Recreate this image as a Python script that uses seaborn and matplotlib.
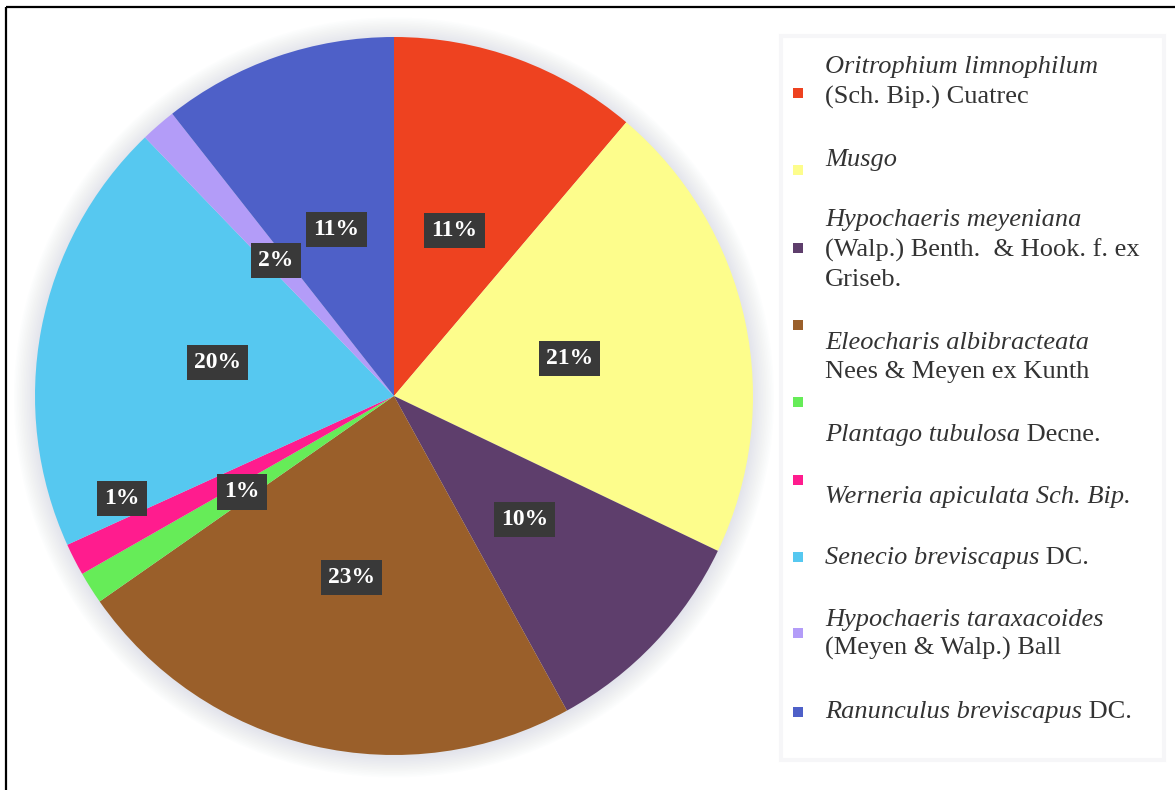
import matplotlib
matplotlib.use("Agg")
import matplotlib.pyplot as plt
from matplotlib.patches import Circle, Rectangle
import numpy as np
import seaborn as sns

# Species composition (% of cover)
species = [
    "Oritrophium limnophilum (Sch. Bip.) Cuatrec",
    "Musgo",
    "Hypochaeris meyeniana (Walp.) Benth. & Hook. f. ex Griseb.",
    "Eleocharis albibracteata Nees & Meyen ex Kunth",
    "Plantago tubulosa Decne.",
    "Werneria apiculata Sch. Bip.",
    "Senecio breviscapus DC.",
    "Hypochaeris taraxacoides (Meyen & Walp.) Ball",
    "Ranunculus breviscapus DC.",
]
values = [11.2, 20.9, 9.9, 23.3, 1.45, 1.45, 19.6, 1.6, 10.6]
colors = ["#EE4220", "#FDFD8C", "#5E3E6C", "#9A5F2A", "#66EC58",
          "#FF1C8E", "#56C8F0", "#B39CF8", "#4E60C8"]

# Legend text: each entry is a list of lines, each line a list of (text, italic) parts
legend_lines = [
    [[("Oritrophium limnophilum", True)], [("(Sch. Bip.) Cuatrec", False)]],
    [[("Musgo", True)]],
    [[("Hypochaeris meyeniana", True)], [("(Walp.) Benth.  & Hook. f. ex", False)],
     [("Griseb.", False)]],
    [[("Eleocharis albibracteata", True)], [("Nees & Meyen ex Kunth", False)]],
    [[("Plantago tubulosa", True), (" Decne.", False)]],
    [[("Werneria apiculata Sch. Bip.", True)]],
    [[("Senecio breviscapus", True), (" DC.", False)]],
    [[("Hypochaeris taraxacoides", True)], [("(Meyen & Walp.) Ball", False)]],
    [[("Ranunculus breviscapus", True), (" DC.", False)]],
]

sns.set_theme(style="white")
plt.rcParams["font.family"] = ["Liberation Serif", "DejaVu Serif"]

W, H = 1175, 790
fig = plt.figure(figsize=(W / 100, H / 100), dpi=100)
fig.patch.set_facecolor("white")

# Pie axes: centre and radius in pixels
cx, cy, R = 394, 396, 359
ax = fig.add_axes([(cx - R) / W, 1 - (cy + R) / H, 2 * R / W, 2 * R / H])
ax.axis("off")

# soft halo behind the pie
for i in range(14):
    ax.add_patch(Circle((0.0, -0.004), 1 + 0.0045 * i, facecolor="#c9ccdb",
                        edgecolor="none", alpha=0.04, zorder=0, clip_on=False))

wedges, _ = ax.pie(values, colors=colors, startangle=90, counterclock=False,
                   radius=1, wedgeprops=dict(linewidth=0), normalize=True)
for w in wedges:
    w.set_zorder(2)
ax.set_xlim(-1, 1)
ax.set_ylim(-1, 1)
ax.set_aspect("equal")

# percentage labels on dark boxes
dist = [0.49, 0.5, 0.5, 0.52, 0.5, 0.81, 0.5, 0.5, 0.49]
ang_shift = [0, 0, 0, 0, 0, 6.5, 0, 0, 0]
total = sum(values)
cum = np.cumsum([0] + values[:-1])
for v, c0, d, s in zip(values, cum, dist, ang_shift):
    theta = np.deg2rad((c0 + v / 2) / total * 360 + s)
    x, y = d * np.sin(theta), d * np.cos(theta)
    ax.text(x, y, f"{v / total * 100:.0f}%", ha="center", va="center",
            fontsize=17, fontweight="bold", color="white", zorder=5,
            bbox=dict(boxstyle="square,pad=0.3", facecolor="#393939",
                      edgecolor="none"))

# overlay axes in pixel space for legend and frame
ov = fig.add_axes([0, 0, 1, 1], facecolor="none")
ov.set_xlim(0, W)
ov.set_ylim(H, 0)
ov.axis("off")

# frame lines
ov.plot([6, W + 5], [7, 7], color="black", lw=1.6, solid_capstyle="butt")
ov.plot([6, 6], [7, H + 5], color="black", lw=1.6, solid_capstyle="butt")

# legend panel
ov.add_patch(Rectangle((781, 36), 383, 724, facecolor="white",
                       edgecolor="#f6f6f8", lw=3, zorder=1))

marker_y = [93, 170, 248, 325, 402, 480, 557, 633, 712]
text_y = [[67, 97], [160], [220, 250, 280], [343, 372], [435], [497], [558],
          [620, 648], [712]]
text_x = 825
for col, my, entry, ys in zip(colors, marker_y, legend_lines, text_y):
    ov.add_patch(Rectangle((793, my - 5), 10, 10, facecolor=col,
                           edgecolor="none", zorder=3))
    for line, ly in zip(entry, ys):
        prev = None
        for txt, italic in line:
            style = "italic" if italic else "normal"
            if prev is None:
                prev = ov.text(text_x, ly, txt, fontsize=19, style=style,
                               color="#333333", va="center", ha="left", zorder=4)
            else:
                prev = ov.annotate(txt, xy=(1, 0), xycoords=prev, fontsize=19,
                                   style=style, color="#333333", va="bottom",
                                   ha="left", zorder=4)

fig.savefig("out.png", dpi=100, facecolor="white")
